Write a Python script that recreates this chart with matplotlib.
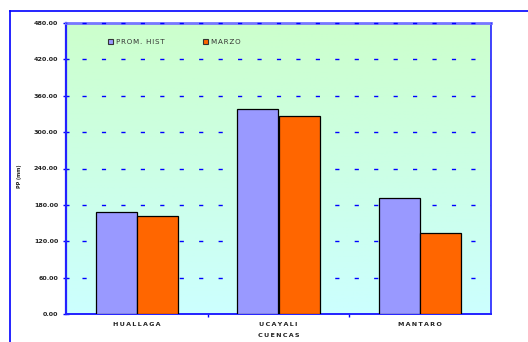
import numpy as np
import matplotlib
matplotlib.use("Agg")
import matplotlib.pyplot as plt
from matplotlib.patches import Patch

categories = ["HUALLAGA", "UCAYALI", "MANTARO"]
prom_hist = [168.0, 338.0, 191.0]
marzo = [161.0, 327.0, 134.0]
series_names = ["PROM. HIST", "MARZO"]
yticks = [0, 60, 120, 180, 240, 300, 360, 420, 480]

W, H = 528, 342
fig = plt.figure(figsize=(W / 100, H / 100), dpi=100)
fig.patch.set_facecolor("white")

# outer frame lines (blue)
fig.add_artist(plt.Line2D([10 / W, 10 / W], [0, 1 - 11 / H], color="#0000ff", lw=1.2, transform=fig.transFigure))
fig.add_artist(plt.Line2D([10 / W, 1], [1 - 11 / H, 1 - 11 / H], color="#0000ff", lw=1.2, transform=fig.transFigure))

left, right, top, bottom = 66, 491, 23, 314
ax = fig.add_axes([left / W, 1 - bottom / H, (right - left) / W, (bottom - top) / H])

x = np.arange(len(categories))
ax.set_xlim(-0.5, len(categories) - 0.5)
ax.set_ylim(0, 480)

# gradient background
grad = np.linspace(1, 0, 256).reshape(-1, 1)
c_top = np.array([204, 255, 204]) / 255
c_bot = np.array([204, 255, 255]) / 255
img = c_bot[None, None, :] * (1 - grad[:, :, None]) + c_top[None, None, :] * grad[:, :, None]
ax.imshow(img, extent=[-0.5, len(categories) - 0.5, 0, 480], aspect="auto", zorder=0)

# dashed grid
for yv in yticks[1:-1]:
    ax.axhline(yv, color="#0000ff", lw=1.0, linestyle=(2.5, (3, 11)), zorder=1)

bw = 0.29
ax.bar(x - bw / 2, prom_hist, bw, color="#9999ff", edgecolor="black", lw=0.9, zorder=3, label=series_names[0])
ax.bar(x + bw / 2, marzo, bw, color="#ff6600", edgecolor="black", lw=0.9, zorder=3, label=series_names[1])

for s in ["left", "bottom", "right"]:
    ax.spines[s].set_color("#2222ff")
ax.spines["left"].set_linewidth(1.6)
ax.spines["bottom"].set_linewidth(1.4)
ax.spines["right"].set_linewidth(1.2)
ax.spines["top"].set_color("#7777ff")
ax.spines["top"].set_linewidth(2.0)
ax.axhline(480, color="#0000ff", lw=1.0, linestyle=(2.5, (3, 11)), zorder=5, clip_on=False)

ax.set_yticks(yticks)
ax.set_yticklabels([f"{v:.2f}" for v in yticks], fontsize=4.6, fontweight="bold",
                   family="DejaVu Sans", color="#222222")
ax.tick_params(axis="y", direction="inout", length=5, width=1, color="#0000ff", pad=3)

ax.set_xticks([0.5, 1.5])
ax.set_xticklabels([])
ax.tick_params(axis="x", direction="out", length=2.5, width=1, color="#0000ff")

def spaced(s, sep="\u2009"):
    return sep.join(s)

for xi, c in zip(x, categories):
    ax.text(xi, -0.0275, spaced(c), transform=ax.get_xaxis_transform(), ha="center", va="top",
            fontsize=4.6, fontweight="bold", family="DejaVu Sans", color="#222222")
ax.text(1, -0.065, spaced("CUENCAS"), transform=ax.get_xaxis_transform(), ha="center", va="top",
        fontsize=4.6, fontweight="bold", family="DejaVu Sans", color="#222222")

fig.text(20 / W, 1 - 176 / H, "PP (mm)", rotation=90, ha="center", va="center",
         fontsize=3.5, fontweight="bold", family="DejaVu Sans", color="#222222")

handles = [Patch(facecolor="#9999ff", edgecolor="#333333", lw=0.8),
           Patch(facecolor="#ff6600", edgecolor="#333333", lw=0.8)]
leg = ax.legend(handles, [spaced(n, "\u200a") for n in series_names], loc="upper left",
                bbox_to_anchor=((108 - left) / (right - left), 1 - (39 - top) / (bottom - top)),
                bbox_transform=ax.transAxes, ncol=2, frameon=False,
                handlelength=0.75, handleheight=0.75, handletextpad=0.4, columnspacing=5.35,
                borderpad=0, borderaxespad=0,
                prop={"size": 5.1, "family": "DejaVu Sans"})
for t in leg.get_texts():
    t.set_color("#333333")

fig.savefig("out.png", dpi=100, facecolor="white")
